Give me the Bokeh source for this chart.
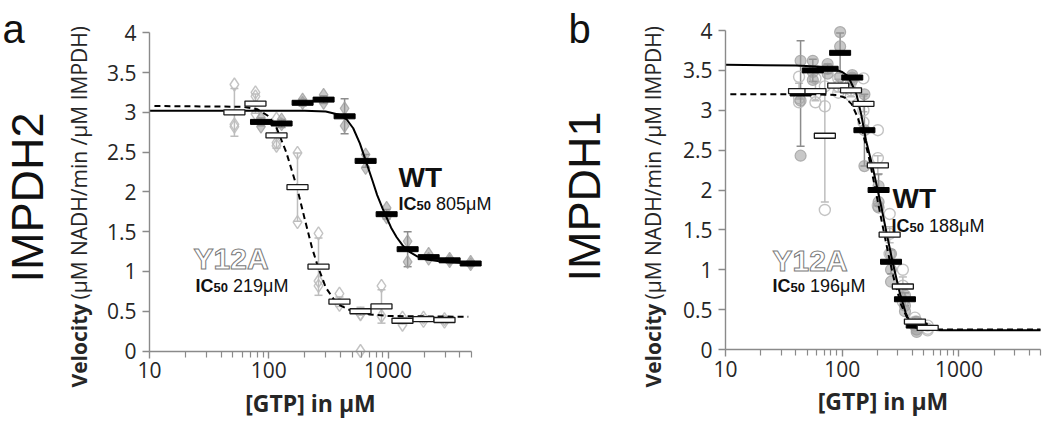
import math
from bokeh.plotting import figure
from bokeh.models import (Range1d, FixedTicker, NumeralTickFormatter, Label,
                          Whisker, TeeHead, ColumnDataSource)
from bokeh.layouts import row
from bokeh.embed import file_html
from bokeh.resources import INLINE

# ---------------- axis ticks ----------------
X_TICKS = [10, 100, 1000]
X_MINOR = [20, 30, 40, 50, 60, 70, 80, 90, 200, 300, 400, 500, 600, 700, 800, 900,
           2000, 3000, 4000, 5000]
Y_TICKS = [0, 0.5, 1, 1.5, 2, 2.5, 3, 3.5, 4]

# ---------------- panel a : IMPDH2 ----------------
A_WT_CONC = [86, 128, 192, 288, 432, 648, 972, 1458, 2187, 3280, 4920]
A_WT_MEAN = [2.88, 2.86, 3.12, 3.16, 2.95, 2.39, 1.72, 1.28, 1.18, 1.14, 1.10]
A_WT_SD = [0.05, 0.05, 0.04, 0.05, 0.22, 0.08, 0.06, 0.22, 0.03, 0.03, 0.03]
A_WT_REP_X = [86, 86, 128, 128, 192, 192, 288, 288, 432, 432, 648, 648, 972, 972,
              1458, 1458, 2187, 2187, 3280, 3280, 4920, 4920]
A_WT_REP_Y = [2.93, 2.82, 2.91, 2.85, 3.16, 3.12, 3.22, 3.12, 3.05, 2.83, 2.47, 2.30,
              1.80, 1.68, 1.38, 1.12, 1.22, 1.16, 1.16, 1.13, 1.12, 1.09]

A_MUT_CONC = [51.5, 77.3, 116, 174, 261, 391, 587, 880, 1320, 1980, 2970]
A_MUT_MEAN = [3.00, 3.11, 2.71, 2.06, 1.06, 0.62, 0.50, 0.56, 0.38, 0.40, 0.39]
A_MUT_SD = [0.30, 0.12, 0.16, 0.43, 0.36, 0.06, 0.05, 0.21, 0.04, 0.03, 0.03]
A_MUT_REP_X = [51.5, 51.5, 51.5, 77.3, 77.3, 77.3, 116, 116, 116, 174, 174,
               261, 261, 261, 391, 391, 587, 587, 587, 880, 880, 1320, 1320,
               1980, 1980, 2970, 2970]
A_MUT_REP_Y = [3.35, 2.85, 2.82, 3.25, 3.20, 2.98, 2.92, 2.62, 2.58, 2.49, 1.62,
               1.48, 0.88, 0.82, 0.72, 0.58, 0.47, 0.46, 0.00, 0.82, 0.44, 0.42, 0.33,
               0.42, 0.38, 0.40, 0.37]

A_WT_FIT_X = [10, 100, 200, 300, 390, 450, 510, 580, 650, 740, 810, 900, 970, 1060,
              1180, 1320, 1500, 1750, 2100, 3000, 5000]
A_WT_FIT_Y = [3.02, 3.02, 3.02, 3.01, 2.97, 2.91, 2.80, 2.61, 2.39, 2.14, 1.96, 1.79,
              1.68, 1.55, 1.43, 1.33, 1.25, 1.19, 1.15, 1.12, 1.10]
A_MUT_FIT_X = [11, 60, 80, 100, 115, 140, 172, 200, 230, 258, 300, 350, 400, 500,
               700, 1000, 4700]
A_MUT_FIT_Y = [3.08, 3.07, 3.04, 2.95, 2.82, 2.50, 2.06, 1.66, 1.30, 1.06, 0.80,
               0.65, 0.57, 0.50, 0.46, 0.44, 0.43]

# ---------------- panel b : IMPDH1 ----------------
B_WT_CONC = [44, 56, 75, 96, 122, 155, 205, 262, 345, 435]
B_WT_MEAN = [3.21, 3.50, 3.52, 3.72, 3.41, 2.75, 2.00, 1.10, 0.63, 0.30]
B_WT_SD = [0.66, 0.14, 0.06, 0.25, 0.04, 0.45, 0.20, 0.15, 0.08, 0.04]
B_WT_REP_X = [44, 44, 44, 56, 56, 56, 75, 75, 75, 96, 96, 96, 122, 122, 122,
              155, 155, 155, 205, 205, 205, 262, 262, 262, 345, 345, 345, 435, 435, 435]
B_WT_REP_Y = [3.62, 3.12, 2.43, 3.62, 3.48, 3.38, 3.58, 3.52, 3.46, 3.98, 3.80, 3.42,
              3.44, 3.41, 3.38, 3.20, 2.75, 2.30, 2.05, 1.85, 1.78, 1.20, 1.00, 0.85,
              0.68, 0.55, 0.48, 0.35, 0.25, 0.22]

B_MUT_CONC = [42.7, 59, 71, 92.5, 119, 152, 202, 255, 331, 420, 540]
B_MUT_MEAN = [3.24, 3.24, 2.68, 3.31, 3.25, 3.08, 2.31, 1.44, 0.79, 0.35, 0.27]
B_MUT_SD = [0.10, 0.12, 0.83, 0.08, 0.08, 0.10, 0.12, 0.10, 0.12, 0.05, 0.03]
B_MUT_REP_X = [42.7, 42.7, 42.7, 59, 59, 59, 71, 71, 71, 92.5, 92.5, 92.5,
               119, 119, 119, 152, 152, 152, 202, 202, 202, 255, 255, 255,
               331, 331, 331, 420, 420, 420, 540, 540, 540]
B_MUT_REP_Y = [3.42, 3.15, 3.10, 3.40, 3.20, 3.10, 3.30, 3.05, 1.75, 3.40, 3.30, 3.22,
               3.35, 3.25, 3.18, 3.40, 3.00, 2.85, 2.75, 2.40, 1.80, 1.70, 1.45, 1.20,
               1.00, 0.80, 0.60, 0.40, 0.35, 0.30, 0.30, 0.26, 0.24]

B_WT_FIT_X = [10, 40, 60, 83, 100, 112, 132, 145, 160, 183, 200, 217, 240, 270, 310,
              350, 376, 420, 500, 700, 5000]
B_WT_FIT_Y = [3.57, 3.56, 3.55, 3.52, 3.48, 3.43, 3.21, 2.96, 2.62, 2.28, 2.02, 1.78,
              1.46, 1.10, 0.72, 0.46, 0.36, 0.28, 0.25, 0.24, 0.24]
B_MUT_FIT_X = [11, 60, 90, 105, 120, 135, 150, 170, 196, 220, 250, 280, 320, 370,
               420, 500, 700, 5000]
B_MUT_FIT_Y = [3.20, 3.20, 3.19, 3.16, 3.08, 2.92, 2.72, 2.40, 1.95, 1.58, 1.18, 0.86,
               0.56, 0.36, 0.29, 0.26, 0.25, 0.25]

FIG_W, FIG_H = 525, 427
AX_COLOR = "#8a8a8a"
TXT = "#262626"
AXFONT = "Open Sans"
LBLFONT = "Liberation Sans"


def make_fig(geom):
    # geom: (pixel of x=10, pixels per decade, pixel of y=0, pixels per unit)
    L, DEC, B, PPU = geom
    xr = Range1d(10 ** (1 - L / DEC), 10 ** (1 + (FIG_W - L) / DEC))
    yr = Range1d(-(FIG_H - B) / PPU, B / PPU)
    p = figure(width=FIG_W, height=FIG_H, x_axis_type="log",
               x_range=xr, y_range=yr,
               output_backend="svg", toolbar_location=None, min_border=0,
               min_border_left=0, min_border_right=0, min_border_top=0,
               min_border_bottom=0)
    p.grid.visible = False
    p.outline_line_color = None
    p.background_fill_color = "white"
    p.border_fill_color = "white"
    xa, ya = p.xaxis[0], p.yaxis[0]
    xa.fixed_location = 0
    ya.fixed_location = 10
    xa.bounds = (10, 5000)
    ya.bounds = (0, 4)
    xa.ticker = FixedTicker(ticks=X_TICKS, minor_ticks=X_MINOR)
    xa.formatter = NumeralTickFormatter(format="0")
    ya.ticker = FixedTicker(ticks=Y_TICKS, minor_ticks=[])
    ya.formatter = NumeralTickFormatter(format="0.[0]")
    for ax in (xa, ya):
        ax.axis_line_color = AX_COLOR
        ax.axis_line_width = 1.4
        ax.major_tick_line_color = AX_COLOR
        ax.major_tick_line_width = 1.4
        ax.minor_tick_line_color = AX_COLOR
        ax.minor_tick_line_width = 1.2
        ax.major_tick_in = 0
        ax.major_tick_out = 7
        ax.minor_tick_in = 0
        ax.minor_tick_out = 6
        ax.major_label_text_font = AXFONT
        ax.major_label_text_font_size = "21px"
        ax.major_label_text_color = TXT
    xa.major_label_standoff = 4
    ya.major_label_standoff = 6
    xa.axis_label = "[GTP] in μM"
    xa.axis_label_text_font = AXFONT
    xa.axis_label_text_font_style = "bold"
    xa.axis_label_text_font_size = "23px"
    xa.axis_label_text_color = TXT
    xa.axis_label_standoff = 5
    return p


def make_lab(geom):
    L, DEC, B, PPU = geom

    def lab(p, px, py, text, size, bold=False, font=LBLFONT, angle=0.0,
            align="left", baseline="alphabetic", color="black", outline=None):
        x = 10 ** (1 + (px - L) / DEC)
        y = (B - py) / PPU
        kw = {}
        if outline:
            kw["text_outline_color"] = outline
        p.add_layout(Label(x=x, y=y, text=text, text_font=font,
                           text_font_size=f"{size}px",
                           text_font_style="bold" if bold else "normal",
                           angle=angle, text_align=align, text_baseline=baseline,
                           text_color=color, **kw))
    return lab


def ic50(lab, p, x0, y0, val):
    lab(p, x0, y0, "IC", 18, bold=True, color="#111111")
    lab(p, x0 + 18, y0 + 2, "50", 13, bold=True, color="#111111")
    lab(p, x0 + 37.5, y0, f"{val}μM", 18, color="#111111")


def ylabel(lab, p, xc):
    lab(p, xc, 387, "Velocity", 21, bold=True, font=AXFONT, angle=math.pi / 2,
        baseline="middle", color=TXT)
    lab(p, xc, 299, "(μM NADH/min /μM IMPDH)", 21, font=AXFONT, angle=math.pi / 2,
        baseline="middle", color=TXT)


def draw_data(p, wt, mut, wt_fit, mut_fit, circles):
    wc, wm, ws, wrx, wry = wt
    mc, mm, ms, mrx, mry = mut
    marker = "circle" if circles else "diamond"
    msize = 11 if circles else 13
    # replicate points
    p.scatter(mrx, mry, marker=marker, size=msize, fill_color="white", fill_alpha=0.0,
              line_color="#bdbdbd", line_width=1.4, line_alpha=0.9)
    p.scatter(wrx, wry, marker=marker, size=msize, fill_color="#9a9a9a", fill_alpha=0.55,
              line_color="#a0a0a0", line_width=1.2, line_alpha=0.8)
    # error bars
    for conc, mean, sd, col in ((mc, mm, ms, "#bdbdbd"), (wc, wm, ws, "#8c8c8c")):
        src = ColumnDataSource(dict(base=conc,
                                    upper=[m + s for m, s in zip(mean, sd)],
                                    lower=[m - s for m, s in zip(mean, sd)]))
        p.add_layout(Whisker(source=src, base="base", upper="upper", lower="lower",
                             dimension="height", line_color=col, line_width=1.5,
                             upper_head=TeeHead(size=8, line_color=col, line_width=1.5),
                             lower_head=TeeHead(size=8, line_color=col, line_width=1.5)))
    # fitted curves
    p.line(mut_fit[0], mut_fit[1], line_color="black", line_width=2, line_dash="6 4")
    p.line(wt_fit[0], wt_fit[1], line_color="black", line_width=2)
    # means
    p.rect(wc, wm, width=21, height=5, width_units="screen", height_units="screen",
           fill_color="black", line_color="black")
    p.rect(mc, mm, width=21, height=5, width_units="screen", height_units="screen",
           fill_color="white", line_color="#1a1a1a", line_width=1.3)


# ---------------- panel a ----------------
A_GEOM = (149, 119.3, 350.5, 79.55)
pa = make_fig(A_GEOM)
draw_data(pa, (A_WT_CONC, A_WT_MEAN, A_WT_SD, A_WT_REP_X, A_WT_REP_Y),
          (A_MUT_CONC, A_MUT_MEAN, A_MUT_SD, A_MUT_REP_X, A_MUT_REP_Y),
          (A_WT_FIT_X, A_WT_FIT_Y), (A_MUT_FIT_X, A_MUT_FIT_Y), circles=False)
la = make_lab(A_GEOM)
la(pa, 2, 28, "a", 40, color="#111111")
la(pa, 27, 197, "IMPDH2", 45, angle=math.pi / 2, align="center", baseline="middle",
   color="#111111")
ylabel(la, pa, 78)
la(pa, 398, 177, "WT", 28, bold=True, color="#111111")
ic50(la, pa, 398, 203, "805")
la(pa, 193, 258, "Y12A", 30, bold=True, color="white", outline="#7a7a7a")
ic50(la, pa, 195, 285, "219")

# ---------------- panel b ----------------
B_GEOM = (200, 116.7, 349, 79.75)
pb = make_fig(B_GEOM)
draw_data(pb, (B_WT_CONC, B_WT_MEAN, B_WT_SD, B_WT_REP_X, B_WT_REP_Y),
          (B_MUT_CONC, B_MUT_MEAN, B_MUT_SD, B_MUT_REP_X, B_MUT_REP_Y),
          (B_WT_FIT_X, B_WT_FIT_Y), (B_MUT_FIT_X, B_MUT_FIT_Y), circles=True)
lb = make_lab(B_GEOM)
lb(pb, 43, 28, "b", 40, color="#111111")
lb(pb, 59, 196, "IMPDH1", 45, angle=math.pi / 2, align="center", baseline="middle",
   color="#111111")
ylabel(lb, pb, 127)
lb(pb, 367, 198, "WT", 28, bold=True, color="#111111")
ic50(lb, pb, 366, 225, "188")
lb(pb, 247, 260, "Y12A", 30, bold=True, color="white", outline="#7a7a7a")
ic50(lb, pb, 247, 285, "196")

layout = row(pa, pb)
open("out.html", "w").write(file_html(layout, INLINE))
